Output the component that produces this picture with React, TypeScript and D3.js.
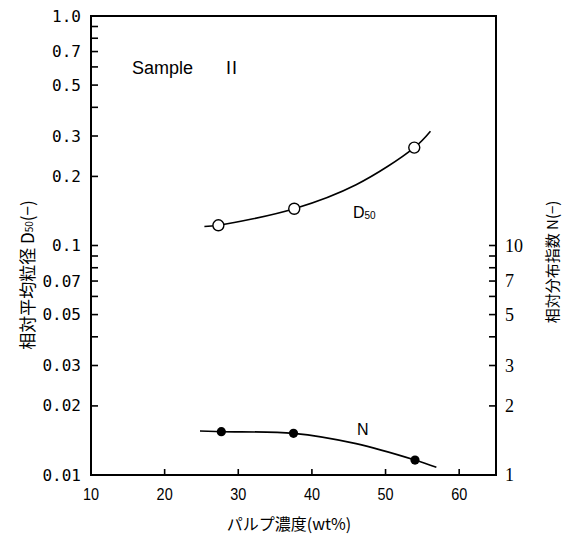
import React from "react";
import * as d3 from "d3";

const W = 564;
const H = 537;

// Tick values
const xTicks = [10, 20, 30, 40, 50, 60];
const xTickMarks = [20, 30, 40, 50, 60];
const leftLabels = [1.0, 0.7, 0.5, 0.3, 0.2, 0.1, 0.07, 0.05, 0.03, 0.02, 0.01];
const leftLabelText = ["1.0", "0.7", "0.5", "0.3", "0.2", "0.1", "0.07", "0.05", "0.03", "0.02", "0.01"];
const leftTickMarks = [
  0.9, 0.8, 0.7, 0.6, 0.5, 0.4, 0.3, 0.2, 0.1,
  0.09, 0.08, 0.07, 0.06, 0.05, 0.04, 0.03, 0.02,
];
const rightLabels = [10, 7, 5, 3, 2, 1];
const rightTickMarks = [2, 3, 4, 5, 6, 7, 8, 9, 10];

// D50 series (open circles)
const d50X = [27.3, 37.6, 53.9];
const d50Y = [0.1225, 0.1446, 0.267];
const d50CurveX = [25.4, 27.3, 37.6, 46.0, 53.9, 56.1];
const d50CurveY = [0.121, 0.1225, 0.1446, 0.184, 0.267, 0.315];

// N series (filled circles)
const nX = [27.7, 37.5, 54.0];
const nY = [1.544, 1.519, 1.162];
const nCurveX = [24.8, 27.7, 37.5, 46.0, 54.0, 56.9];
const nCurveY = [1.555, 1.544, 1.519, 1.37, 1.162, 1.08];

export default function App() {
  const left = 91, right = 496, top = 16, bottom = 475;
  const x = d3.scaleLinear().domain([10, 65]).range([left, right]);
  const yL = d3.scaleLog().domain([0.01, 1]).range([bottom, top]);
  const yR = d3.scaleLog().domain([1, 100]).range([bottom, top]);

  const d50Line = d3
    .line<number>()
    .x((_, i) => x(d50CurveX[i]))
    .y((v) => yL(v))
    .curve(d3.curveCatmullRom.alpha(0.5));
  const nLine = d3
    .line<number>()
    .x((_, i) => x(nCurveX[i]))
    .y((v) => yR(v))
    .curve(d3.curveCatmullRom.alpha(0.5));

  const tickFont = "'DejaVu Sans Mono', monospace";
  const cjk = "'Noto Sans CJK JP', 'Noto Sans', sans-serif";

  return (
    <svg width={W} height={H} style={{ position: "absolute", left: 0, top: 0, background: "#fff" }}>
      <rect x={0} y={0} width={W} height={H} fill="#fff" />
      {/* frame */}
      <path
        d={`M${left},${top} L${right},${top} L${right},${bottom} L${left},${bottom} Z`}
        fill="none"
        stroke="#000"
        strokeWidth={2}
      />
      {/* left ticks */}
      {leftTickMarks.map((v) => (
        <line key={"lt" + v} x1={left} x2={left + 7} y1={yL(v)} y2={yL(v)} stroke="#000" strokeWidth={1.6} />
      ))}
      {leftLabels.map((v, i) => (
        <text
          key={"ll" + v}
          x={81}
          y={yL(v)}
          textAnchor="end"
          dominantBaseline="central"
          fontFamily={tickFont}
          fontSize={16}
          fill="#000"
        >
          {leftLabelText[i]}
        </text>
      ))}
      {/* right ticks */}
      {rightTickMarks.map((v) => (
        <line key={"rt" + v} x1={right - 7} x2={right} y1={yR(v)} y2={yR(v)} stroke="#000" strokeWidth={1.6} />
      ))}
      {rightLabels.map((v) => (
        <text
          key={"rl" + v}
          x={505}
          y={yR(v)}
          textAnchor="start"
          dominantBaseline="central"
          fontFamily="'Liberation Serif', serif"
          fontSize={18}
          fill="#000"
        >
          {v}
        </text>
      ))}
      {/* bottom ticks */}
      {xTickMarks.map((v) => (
        <line key={"bt" + v} x1={x(v)} x2={x(v)} y1={bottom} y2={bottom - 6} stroke="#000" strokeWidth={1.6} />
      ))}
      {xTicks.map((v) => (
        <text
          key={"bl" + v}
          transform={`translate(${x(v)},${500}) scale(0.85,1)`}
          textAnchor="middle"
          fontFamily="'Liberation Sans', sans-serif"
          fontSize={17}
          fill="#000"
        >
          {v}
        </text>
      ))}

      {/* curves */}
      <path d={d50Line(d50CurveY) || ""} fill="none" stroke="#000" strokeWidth={1.6} />
      <path d={nLine(nCurveY) || ""} fill="none" stroke="#000" strokeWidth={1.6} />
      {d50X.map((v, i) => (
        <circle key={"dc" + i} cx={x(v)} cy={yL(d50Y[i])} r={5.5} fill="#fff" stroke="#000" strokeWidth={1.4} />
      ))}
      {nX.map((v, i) => (
        <circle key={"nc" + i} cx={x(v)} cy={yR(nY[i])} r={4.6} fill="#000" />
      ))}

      {/* annotations */}
      <text x={132} y={74} fontFamily="'Liberation Sans', sans-serif" fontSize={18} fill="#000">
        Sample
      </text>
      <text x={226} y={74} fontFamily="'Liberation Sans', sans-serif" fontSize={18} fill="#000" letterSpacing={1}>
        II
      </text>
      <text x={353} y={218} fontFamily="'Liberation Sans', sans-serif" fontSize={16} fill="#000">
        D
        <tspan fontSize={10} dy={1}>50</tspan>
      </text>
      <text x={357} y={435} fontFamily="'Liberation Sans', sans-serif" fontSize={16} fill="#000">
        N
      </text>

      {/* axis titles */}
      <text
        transform={`translate(26,275) rotate(-90)`}
        textAnchor="middle"
        dominantBaseline="central"
        fontFamily={cjk}
        fontSize={17}
        fill="#000"
      >
        相対平均粒径 D<tspan fontSize={10} dy={2}>50</tspan>
        <tspan dy={-2}>(−)</tspan>
      </text>
      <text
        transform={`translate(551,262) rotate(-90)`}
        textAnchor="middle"
        dominantBaseline="central"
        fontFamily={cjk}
        fontSize={15}
        fill="#000"
      >
        相対分布指数 N(−)
      </text>
      <text x={289} y={530} textAnchor="middle" fontFamily={cjk} fontSize={16} fill="#000">
        パルプ濃度(wt%)
      </text>
    </svg>
  );
}
